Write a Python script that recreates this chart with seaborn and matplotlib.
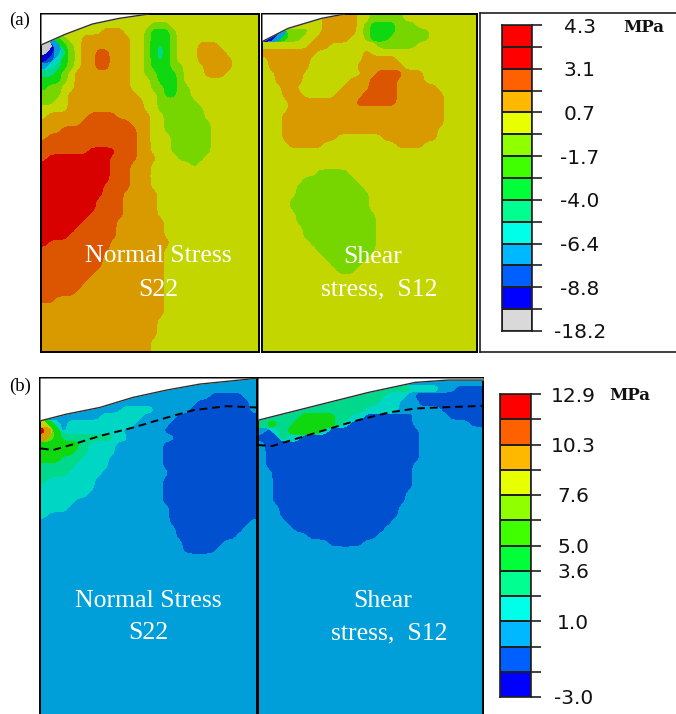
#!/usr/bin/env python3
import numpy as np
import matplotlib
matplotlib.use('Agg')
import matplotlib.pyplot as plt
from matplotlib.colors import ListedColormap
import seaborn as sns

#%% Data: stress band index per cell, one character per cell (0-9, A, B)
# a row shorter than 32 cells carries on with its last band
a_s22 = [
"8",
"8888888888888888777" "8",
"888888888999888766678",
"0367889999999887666788",
"003678999999988765678889998",
"0135789" "9AA99988" "7656788899998",
"124678" "99AA99988" "76567888999998",
"345678" "99AA99988" "766677888" "99998",
"55678" "99999999" "88" "77666" "7888" "9998",
"66678" "99999999" "888" "7666" "78",
"67788" "99999999" "888" "77" "66" "778",
"7778" "9999999999" "888" "7" "66" "778",
"7788" "99999999999" "88" "777777" "8",
"8888" "99999999999" "88" "7777777" "8",
"8999999AAAA99999" "88" "777777" "8",
"999999AAAAAAA999" "88" "7777777" "8",
"999AAAAAAAAAAA99" "88" "7777777" "8",
"9AAAAAAAAAAAAA99" "888" "777777" "8",
"AAAAAAAAAAAAAA99" "888" "777777" "8",
"AAAAAAABBBBAAA99" "888" "777777" "8",
"ABBBBBBBBBAAAA999" "888" "7777" "8",
"BBBBBBBBBBAAA999" "888888" "78",
"BBBBBBBBBBAAA9998",
"BBBBBBBBBBAAA9998",
"BBBBBBBBBAAAA9998",
"BBBBBBBBBAAA999998",
"BBBBBBBBAAAA999998",
"BBBBBBBBAAAA999998",
"BBBBBBBAAAAA999998",
"BBBBBBAAAAA99999998",
"BBBBBAAAAAA99999998",
"BBBBAAAAAAA99999998",
"BAAAAAAAAA9999999998",
"AAAAAAAAAA999999998",
"AAAAAAAAA9999999998",
"AAAAAAAAA9999999998",
"AAAAAAAA99999999998",
"AAAAAAA999999999998",
"AAAAAA9999999999998",
"AAAAA99999999999998",
"AA9999999999999999" "8",
"999999999999999999" "8",
"999999999999999999" "8",
"99999999999999999" "8",
"99999999999999999" "8",
"99999999999999999" "8",
"9999999999999999" "8",
"9999999999999999" "8",
]

a_s12 = [
"888888888" "99999" "88" "77777" "8",
"8888888" "7" "8" "99999" "8" "7" "6666" "7778",
"1113" "777" "8" "8" "99999" "8" "7" "6666" "777778",
"113" "6" "77" "88" "99999" "88" "7" "666" "777777" "8",
"8888888" "999" "8888888" "777777" "8",
"9A999999" "8888888" "98",
"8999999" "88888888" "999998",
"8999999" "8888888" "99999998",
"88" "9999" "8888888" "88" "99" "AAAA" "9998",
"88" "9999" "8888888" "999" "AAAA" "99998",
"888" "99" "8888888" "9999" "AAAA" "9999998",
"888" "999" "88888" "9999" "AAAAA" "99999998",
"8888" "9999999999" "AAAAAA" "99999998",
"8888" "999999999" "A" "9999999999999" "8",
"888" "999999999999999999999999" "8",
"888" "999999999999999999999999" "8",
"888" "99999999999999999999999" "8",
"888" "99999999" "8888888" "99999999" "8",
"8888" "99999" "88888888888" "9999" "8",
"8",
"8",
"8",
"88888888" "77777" "8",
"888888" "77777777" "8",
"88888" "7777777777" "8",
"88888" "77777777777" "8",
"8888" "777777777777" "8",
"8888" "777777777777" "8",
"88888" "777777777777" "8",
"88888" "777777777777" "8",
"888888" "77777777777" "8",
"888888" "77777777777" "8",
"8888888" "7777777777" "8",
"88888888" "777777777" "8",
"888888888" "7777777" "8",
"8888888888" "77777" "8",
"88888888888" "777" "8",
"8","8","8","8","8","8","8","8","8","8","8",
]

b_s22 = [
"3",
"3",
"3333333333333333333333333" "22222" "3",
"33333333333333333333333" "22222222" "3",
"333333333333" "44444" "33333" "222222222" "3",
"333333333" "444444" "33333" "222222222222",
"864" "3" "4444444444" "33333" "2222222222222",
"B96" "3" "44444444" "333333" "22222222222222",
"9765555555" "5" "44" "3333333" "22222222222222",
"666666" "5" "4444" "3333333" "22222222222222",
"66666" "55" "4444" "3333333" "22222222222222",
"666" "555" "4444" "33333333" "22222222222222",
"55555" "44444" "33333333" "22222222222222",
"5555" "44444" "3333333333" "22222222222222",
"5" "4444444" "3333333333" "22222222222222",
"44444444" "3333333333" "22222222222222",
"4444444" "33333333333" "22222222222222",
"44444" "3333333333333" "22222222222222",
"4444" "333333333333333" "2222222222222",
"4" "333333333333333333" "2222222222222",
"3333333333333333333" "222222222222" "3",
"33333333333333333333" "2222222222" "3",
"33333333333333333333" "222222222" "3",
"333333333333333333333" "222222" "3",
"333333333333333333333" "22222" "3",
"3","3","3","3","3","3","3","3","3","3","3","3","3","3","3",
"3","3","3","3","3","3","3","3",
]

b_s12 = [
"3",
"5555555555555555555555" "4444" "33" "2",
"555555555555555555" "444" "3" "2",
"55555555555555555" "444" "333" "2",
"555555555555555" "444" "44" "33" "2" "333" "2",
"555555666665" "5" "44" "2222222" "33333" "2",
"56655666666" "5" "4" "222222222" "333333" "33" "22",
"3245" "6666" "6" "4" "2222222222222" "33333333" "3",
"2125" "44" "22222222222222222" "3",
"32222222222222222222222" "3",
"32222222222222222222222" "3",
"32222222222222222222222" "3",
"3222222222222222222222" "3",
"33" "22222222222222222222" "3",
"33" "22222222222222222222" "3",
"33" "22222222222222222222" "3",
"33" "2222222222222222222" "3",
"33" "2222222222222222222" "3",
"333" "22222222222222222" "3",
"333" "22222222222222222" "3",
"3333" "222222222222222" "3",
"33333" "2222222222222" "3",
"3333333" "2222222222" "3",
"3333333333" "22222" "3",
"3","3","3","3","3","3","3","3","3","3","3","3","3","3","3",
"3","3","3","3","3","3","3","3","3",
]

# free surface and dashed line, in grid cells
a_s22_surf = ([0, 3.66, 7.56, 11.46, 15.85], [4.4, 2.84, 1.42, 0.62, 0])
a_s12_surf = ([0, 3.88, 8.86, 12.3], [3.93, 2.04, 0.62, 0])
b_s22_surf = ([0, 3.85, 8.8, 13.7, 18.7, 23.6, 30.5, 32], [6.1, 5.14, 4.19, 2.76, 1.71, 0.86, 0.19, 0])
b_s12_surf = ([0, 4.36, 9.1, 15.7, 22.4, 27.1, 32], [6.0, 4.9, 3.71, 2.05, 0.62, 0.29, 0.29])
b_s22_dash = ([0.15, 1.88, 4.84, 8.79, 13.7, 18.7, 22.6, 27.5, 32], [10, 10.24, 9.43, 8.24, 7.05, 5.62, 4.57, 4, 4.19])
b_s12_dash = ([0, 1.99, 4.36, 9.1, 13.8, 18.6, 22.4, 25.7, 32], [9.52, 9.67, 8.95, 7.52, 6.1, 4.9, 4.33, 4.19, 3.95])

# legend bands and labels
band_cols = ['#c8c8c8', '#0000d0', '#0050d0', '#009fd9', '#00d6c4', '#00d88c',
             '#10d810', '#78d600', '#c4d600', '#d99a00', '#dc5500', '#d90000']
a_legend_cols = ['#ff0000', '#ff0000', '#ff6000', '#ffb800', '#e8ff00', '#90ff00', '#40ff00',
                 '#00ff38', '#00ff90', '#00ffe8', '#00b8ff', '#0060ff', '#0000ff', '#d9d9d9']
a_legend_labels = ['4.3', '', '3.1', '', '0.7', '', '-1.7', '', '-4.0', '', '-6.4', '', '-8.8', '', '-18.2']
b_legend_cols = ['#ff0000', '#ff6000', '#ffb800', '#e8ff00', '#90ff00', '#40ff00',
                 '#00ff38', '#00ff90', '#00ffe8', '#00b8ff', '#0060ff', '#0000ff']
b_legend_labels = ['12.9', '', '10.3', '', '7.6', '', '5.0', '3.6', '', '1.0', '', '', '-3.0']

#%% Figure
W, H = 676, 714
UP = 6
fig = plt.figure(figsize=[W/100, H/100], dpi=100)
cmap = ListedColormap(band_cols)

_t = np.arange(-12, 13) / UP
kernel = np.exp(-_t**2 / (2 * 0.56**2))
kernel = kernel / kernel.sum()

def px_axes(x0, y0, x1, y1):
    return fig.add_axes([x0/W, 1-y1/H, (x1-x0)/W, (y1-y0)/H])

def to_grid(rows):
    return np.array([[int(c, 16) for c in r.ljust(32, r[-1])[:32]] for r in rows])

def soften(mask):
    # rounds the cell steps so a band edge does not look like a staircase
    fine = np.kron(mask.astype(float), np.ones((UP, UP)))
    fine = np.pad(fine, 12, mode='edge')
    fine = np.apply_along_axis(np.convolve, 0, fine, kernel, mode='same')
    fine = np.apply_along_axis(np.convolve, 1, fine, kernel, mode='same')
    return fine[12:-12, 12:-12]

def contour_panel(box, rows, surf, dash=None):
    ax = px_axes(*box)
    grid = to_grid(rows)
    sns.heatmap(grid, ax=ax, cmap=cmap, vmin=-0.5, vmax=11.5, cbar=False,
                xticklabels=False, yticklabels=False)
    xx = (np.arange(grid.shape[1]*UP) + 0.5) / UP
    yy = (np.arange(grid.shape[0]*UP) + 0.5) / UP
    for k in np.unique(grid):
        ax.contourf(xx, yy, soften(grid >= k) if k > grid.min() else np.ones((len(yy), len(xx))),
                    levels=[0.5, 1.5], colors=[band_cols[k]])
    ax.fill_between(surf[0], 0, surf[1], color='white', zorder=3, lw=0)
    sns.lineplot(x=surf[0], y=surf[1], ax=ax, color='#303030', lw=1, sort=False,
                 estimator=None, zorder=4)
    if dash is not None:
        sns.lineplot(x=dash[0], y=dash[1], ax=ax, color='black', lw=1.4, sort=False,
                     estimator=None, linestyle=(0, (4, 2.5)), zorder=4)
    ax.set_xlim(0, 32)
    ax.set_ylim(48, 0)
    ax.set_xlabel('')
    ax.set_ylabel('')
    for s in ax.spines.values():
        s.set_visible(True)
        s.set_color('black')
        s.set_linewidth(1.4)
    return ax

def legend_bar(box, cols, labels, pad):
    ax = px_axes(*box)
    n = len(cols)
    sns.heatmap(np.arange(n).reshape(-1, 1), ax=ax, cmap=ListedColormap(cols), cbar=False,
                linewidths=1.2, linecolor='#202020', xticklabels=False)
    ax.yaxis.tick_right()
    ax.set_yticks(np.arange(n+1))
    ax.set_yticklabels(labels, rotation=0, fontsize=14.5, color='#111111', ha='center')
    ax.tick_params(axis='y', length=7.5, width=1.2, pad=pad, color='#202020')
    for s in ax.spines.values():
        s.set_visible(True)
        s.set_color('#202020')
        s.set_linewidth(1.2)

# box around the upper legend
frame = px_axes(480, 13, 676.5, 352)
frame.set_xticks([])
frame.set_yticks([])
for s in frame.spines.values():
    s.set_color('#202020')
    s.set_linewidth(1.2)

ax1 = contour_panel((41, 14, 259, 352), a_s22, a_s22_surf)
ax2 = contour_panel((262, 14, 477, 352), a_s12, a_s12_surf)
ax3 = contour_panel((40, 378, 257, 716), b_s22, b_s22_surf, b_s22_dash)
ax4 = contour_panel((258, 378, 483, 716), b_s12, b_s12_surf, b_s12_dash)

legend_bar((502, 25, 532, 331), a_legend_cols, a_legend_labels, 27)
legend_bar((500, 394, 531, 697), b_legend_cols, b_legend_labels, 23)

#%% Text
def label(x, y, s, **kw):
    fig.text(x/W, 1-y/H, s, ha='center', va='center', **kw)

serif = dict(family='Liberation Serif')
for x, y, s in [(158, 256, 'Normal Stress'), (158, 290, 'S22'),
                (373, 257, 'Shear'), (379, 289, 'stress,  S12'),
                (148, 601, 'Normal Stress'), (148, 633, 'S22'),
                (383, 601, 'Shear'), (389, 633, 'stress,  S12')]:
    label(x, y, s, color='white', fontsize=18.5, zorder=10, **serif)
label(20, 20, '(a)', color='black', fontsize=13.5, **serif)
label(20, 386, '(b)', color='black', fontsize=13.5, **serif)
label(644, 28, 'MPa', color='#111111', fontsize=12, family='DejaVu Serif', weight='bold')
label(630, 396, 'MPa', color='#111111', fontsize=12, family='DejaVu Serif', weight='bold')

fig.savefig('out.png', dpi=100)
